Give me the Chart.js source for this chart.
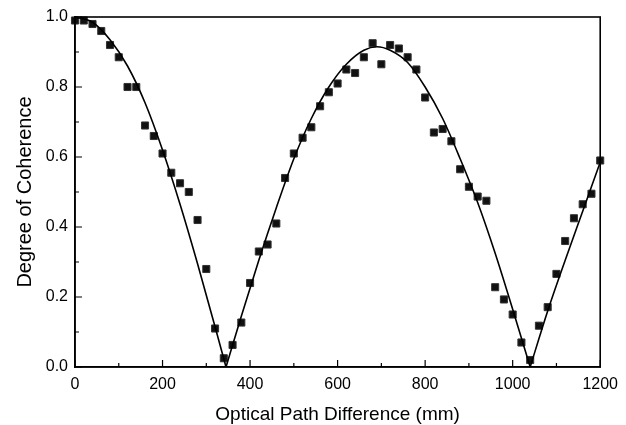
<!DOCTYPE html>
<html>
<head>
<meta charset="utf-8">
<script src="https://cdn.jsdelivr.net/npm/chart.js@4/dist/chart.umd.min.js"></script>
<style>
  body { margin: 0; background: #fff; }
  #wrap { width: 626px; height: 425px; }
</style>
</head>
<body>
<div id="wrap"><canvas id="chart" width="626" height="425"></canvas></div>
<script>
// Measured points (optical path difference in mm, degree of coherence)
const pathDiff = [0, 20, 40, 60, 80, 100, 120, 140, 160, 180, 200, 220, 240, 260, 280, 300,
  320, 340, 360, 380, 400, 420, 440, 460, 480, 500, 520, 540, 560, 580, 600, 620, 640, 660,
  680, 700, 720, 740, 760, 780, 800, 820, 840, 860, 880, 900, 920, 940, 960, 980, 1000,
  1020, 1040, 1060, 1080, 1100, 1120, 1140, 1160, 1180, 1200];
const coherence = [0.99, 0.99, 0.98, 0.96, 0.92, 0.885, 0.80, 0.80, 0.69, 0.66, 0.61, 0.555,
  0.525, 0.50, 0.42, 0.28, 0.11, 0.025, 0.063, 0.127, 0.24, 0.33, 0.35, 0.41, 0.54, 0.61,
  0.655, 0.685, 0.745, 0.785, 0.81, 0.85, 0.84, 0.885, 0.925, 0.865, 0.92, 0.91, 0.885,
  0.85, 0.77, 0.67, 0.68, 0.645, 0.565, 0.515, 0.487, 0.475, 0.228, 0.193, 0.15, 0.07,
  0.02, 0.118, 0.171, 0.266, 0.36, 0.425, 0.465, 0.495, 0.59];

// Fitted curve (zeros split it into lobes)
const fitX = [0, 40, 80, 120, 160, 200, 240, 280, 320, 345,
  380, 420, 460, 500, 540, 580, 620, 660, 690, 720, 760, 800, 840, 880, 920, 960, 1000, 1040,
  1080, 1120, 1160, 1200];
const fitY = [1.0, 0.985, 0.935, 0.86, 0.755, 0.62, 0.465, 0.295, 0.115, 0,
  0.145, 0.305, 0.455, 0.595, 0.71, 0.80, 0.865, 0.905, 0.915, 0.905, 0.87, 0.80, 0.71,
  0.595, 0.47, 0.325, 0.165, 0,
  0.16, 0.305, 0.445, 0.585];

const xTicks = [0, 200, 400, 600, 800, 1000, 1200];
const yTicks = [0.0, 0.2, 0.4, 0.6, 0.8, 1.0];

// split the curve at its zeros so the V corners stay sharp
const lobes = [];
let cur = [];
fitX.forEach((x, i) => {
  cur.push({ x, y: fitY[i] });
  if (fitY[i] === 0 && cur.length > 1) {
    lobes.push(cur);
    cur = [{ x, y: 0 }];
  }
});
if (cur.length > 1) lobes.push(cur);

const curveSets = lobes.map(pts => ({
  data: pts,
  showLine: true,
  borderColor: '#000',
  borderWidth: 1.6,
  pointRadius: 0,
  cubicInterpolationMode: 'monotone',
  clip: false
}));

// inward major/minor ticks plus the closed frame
const frameTicks = {
  id: 'frameTicks',
  afterDraw(chart) {
    const { ctx, chartArea: a, scales: { x, y } } = chart;
    ctx.save();
    ctx.strokeStyle = '#000';
    ctx.lineWidth = 1.6;
    ctx.strokeRect(a.left, a.top, a.right - a.left, a.bottom - a.top);
    ctx.lineWidth = 1.2;
    ctx.beginPath();
    for (let i = 0; i < xTicks.length; i++) {
      const px = x.getPixelForValue(xTicks[i]);
      ctx.moveTo(px, a.bottom); ctx.lineTo(px, a.bottom - 7);
      if (i < xTicks.length - 1) {
        const mx = x.getPixelForValue((xTicks[i] + xTicks[i + 1]) / 2);
        ctx.moveTo(mx, a.bottom); ctx.lineTo(mx, a.bottom - 4);
      }
    }
    for (let i = 0; i < yTicks.length; i++) {
      const py = y.getPixelForValue(yTicks[i]);
      ctx.moveTo(a.left, py); ctx.lineTo(a.left + 7, py);
      if (i < yTicks.length - 1) {
        const my = y.getPixelForValue((yTicks[i] + yTicks[i + 1]) / 2);
        ctx.moveTo(a.left, my); ctx.lineTo(a.left + 4, my);
      }
    }
    ctx.stroke();
    ctx.restore();
  }
};

const font = 'Liberation Sans, Arial, Helvetica, sans-serif';

new Chart(document.getElementById('chart'), {
  type: 'scatter',
  data: {
    datasets: [
      ...curveSets,
      {
        data: pathDiff.map((x, i) => ({ x, y: coherence[i] })),
        pointStyle: 'rect',
        pointRadius: 5,
        backgroundColor: '#111',
        borderColor: '#333',
        borderWidth: 1,
        clip: false
      }
    ]
  },
  options: {
    responsive: false,
    animation: false,
    layout: { padding: { left: 0, right: 24, top: 17, bottom: 0 } },
    plugins: { legend: { display: false }, tooltip: { enabled: false } },
    scales: {
      x: {
        type: 'linear',
        min: 0, max: 1200,
        afterBuildTicks: s => { s.ticks = xTicks.map(v => ({ value: v })); },
        afterFit: s => { s.height = 58; },
        grid: { display: false, drawTicks: false },
        border: { display: true, color: '#000', width: 1.6 },
        ticks: {
          color: '#000', padding: 8, font: { family: font, size: 16 }, maxRotation: 0,
          callback: v => String(v)
        },
        title: {
          display: true, text: 'Optical Path Difference (mm)', color: '#000',
          font: { family: font, size: 19, lineHeight: 1 }, padding: { top: 0, bottom: 1 }
        }
      },
      y: {
        type: 'linear',
        min: 0, max: 1,
        afterBuildTicks: s => { s.ticks = yTicks.map(v => ({ value: v })); },
        afterFit: s => { s.width = 75; },
        grid: { display: false, drawTicks: false },
        border: { display: true, color: '#000', width: 1.6 },
        ticks: {
          color: '#000', padding: 7, font: { family: font, size: 16 },
          callback: v => Number(v).toFixed(1)
        },
        title: {
          display: true, text: 'Degree of Coherence', color: '#000',
          font: { family: font, size: 20, lineHeight: 1 }, padding: { top: 15, bottom: 0 }
        }
      }
    }
  },
  plugins: [frameTicks]
});
</script>
</body>
</html>
